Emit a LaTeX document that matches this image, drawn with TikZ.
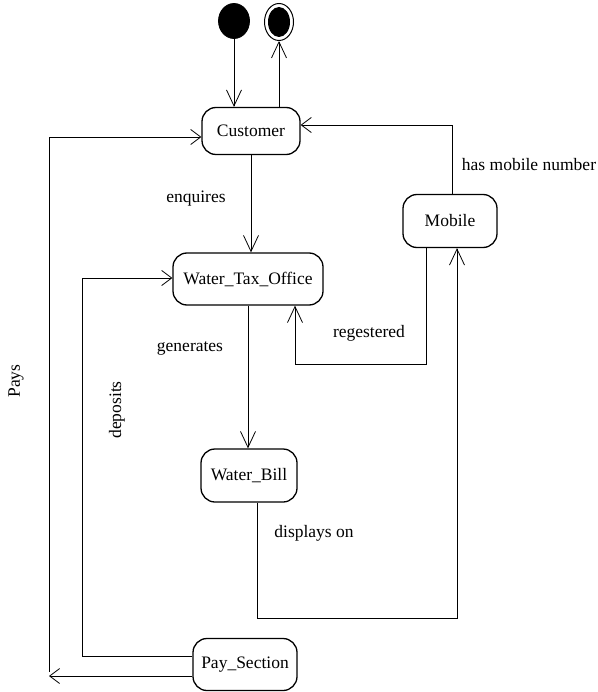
\documentclass[tikz,border=0pt]{standalone}
\usepackage{fontspec}
\setmainfont{Liberation Serif}
\usetikzlibrary{arrows.meta,shapes.geometric,calc,positioning}
\tikzset{
  stbox/.style={draw,line width=1.3pt,rounded corners=14pt,inner sep=0pt,font=\fontsize{17.5}{20}\selectfont},
  lbl/.style={inner sep=0pt,font=\fontsize{17.5}{20}\selectfont},
  startdot/.style={ellipse,fill=black,draw,minimum width=31pt,minimum height=35pt,inner sep=0pt},
  endring/.style={ellipse,draw,line width=1pt,minimum width=29pt,minimum height=37pt,inner sep=0pt},
  enddot/.style={ellipse,fill=black,minimum width=22pt,minimum height=30pt,inner sep=0pt},
  harr/.style={-{Straight Barb[length=10pt,width=15pt]}},
  varr/.style={-{Straight Barb[length=16pt,width=15pt]}}
}
\begin{document}
\begin{tikzpicture}[x=1pt,y=-1pt,line width=0.8pt]
\useasboundingbox (0,0) rectangle (597,692);
\node[startdot] (init) at (234,21) {};
\node[endring] (fin) at (279,22) {};
\node[enddot] at (fin) {};
\node[stbox,minimum width=98pt,minimum height=47pt] (cust) at (251,131) {Customer};
\node[stbox,minimum width=150pt,minimum height=52pt] (wto) at (248,279) {Water\_Tax\_Office};
\node[stbox,minimum width=94pt,minimum height=53pt] (mob) at (450,221) {Mobile};
\node[stbox,minimum width=96pt,minimum height=53pt] (bill) at (249,475.5) {Water\_Bill};
\node[stbox,minimum width=104pt,minimum height=52pt] (pay) at (245,664.5) {Pay\_Section};
\coordinate (hasA) at (452,125);
\coordinate (regA) at (426,364);
\coordinate (regB) at (295,364);
\coordinate (dispA) at (257,618);
\coordinate (dispB) at (457,618);
\coordinate (depA) at (82,656);
\coordinate (depB) at (82,278);
\coordinate (payA) at (49,676);
\coordinate (payB) at (49,672);
\coordinate (payC) at (49,137);
\draw[varr] (init.south) -- (init.south |- cust.north);
\draw[varr] (fin.south |- cust.north) -- (fin.south);
\draw[varr] (cust.south) -- (cust.south |- wto.north);
\draw[varr] (wto.south) -- (wto.south |- bill.north);
\draw[varr] (bill.south -| dispA) -- (dispA) -- (dispB) -- (dispB |- mob.south);
\draw[varr] (mob.south -| regA) -- (regA) -- (regB) -- (regB |- wto.south);
\draw[harr] (mob.north -| hasA) -- (hasA) -- (hasA -| cust.east);
\draw[harr] (pay.west |- depA) -- (depA) -- (depB) -- (depB -| wto.west);
\draw[harr] (pay.west |- payA) -- (payA);
\draw[harr] (payB) -- (payC) -- (payC -| cust.west);
\node[lbl] (enq) at (196,199) {enquires};
\node[lbl] (gen) at (190,348) {generates};
\node[lbl] (reg) at (369,333) {regestered};
\node[lbl] (has) at (529,165) {has mobile number};
\node[lbl] (disp) at (314,533) {displays on};
\node[lbl,rotate=90] (dep) at (117,410) {deposits};
\node[lbl,rotate=90] (pays) at (16,381) {Pays};
\end{tikzpicture}
\end{document}
